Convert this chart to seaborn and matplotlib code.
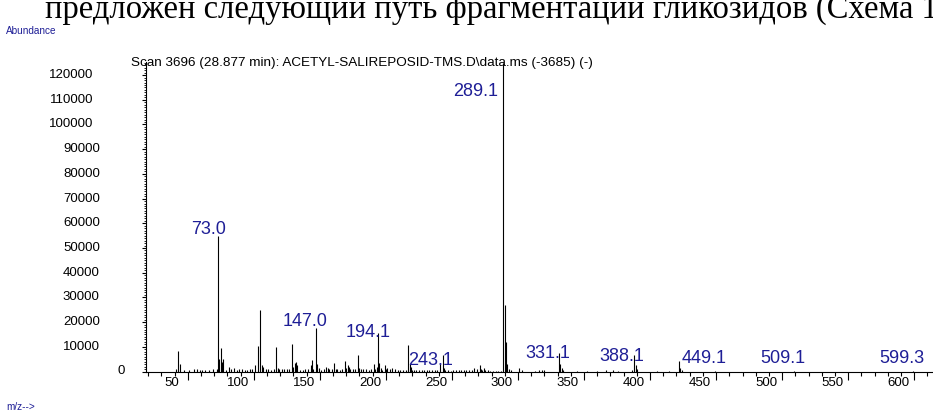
import matplotlib
matplotlib.use('Agg')
import matplotlib.pyplot as plt
import seaborn as sns
from matplotlib.ticker import MultipleLocator

# Espectro de massas (m/z, abundância)
mz = [41, 43, 44, 47, 51, 55, 57, 59, 61, 63, 66, 69, 72, 73, 74, 75, 76, 77, 79, 81,
      83, 85, 87, 89, 91, 93, 95, 97, 99, 101, 103, 105, 106, 107, 109, 111, 113, 115, 117, 118,
      119, 121, 123, 125, 127, 129, 130, 131, 132, 133, 135, 137, 139, 141, 143, 144, 145, 147, 148, 149,
      151, 153, 155, 156, 157, 159, 161, 162, 163, 165, 167, 169, 170, 171, 172, 173, 175, 177, 179, 180,
      181, 183, 185, 187, 189, 191, 192, 193, 194, 195, 196, 197, 199, 200, 201, 203, 205, 207, 209, 211,
      213, 215, 217, 218, 219, 220, 221, 223, 225, 227, 229, 231, 233, 235, 237, 239, 241, 243, 244, 245,
      247, 249, 251, 253, 255, 257, 259, 261, 263, 265, 267, 269, 271, 272, 273, 274, 275, 277, 279, 281,
      283, 285, 287, 289, 290, 291, 292, 293, 295, 301, 303, 313, 316, 318, 320, 331, 332, 333, 334, 345,
      352, 360, 367, 372, 376, 386, 388, 389, 390, 405, 414, 422, 423, 424, 449, 509, 599]
abundance = [1200, 8500, 3000, 800, 700, 1000, 900, 800, 600, 500, 700, 900, 1200, 55000, 5000, 9500, 3800, 5000, 800, 1800,
             900, 1500, 700, 1000, 1200, 800, 700, 900, 1200, 2500, 10500, 25000, 2500, 1800, 900, 1000, 800, 1200, 10000, 1500,
             1200, 1000, 900, 1200, 1000, 11000, 2000, 3500, 4000, 2500, 800, 700, 1000, 1200, 2700, 4800, 1000, 17500, 3000, 1500,
             800, 900, 2000, 1500, 1000, 1200, 3500, 1000, 1200, 800, 1000, 4200, 1500, 2800, 2000, 900, 1000, 1200, 6500, 1500,
             900, 1000, 1200, 800, 1000, 3000, 1000, 2000, 15500, 3500, 1500, 800, 2500, 1000, 1500, 1200, 1500, 900, 800, 700,
             600, 800, 10800, 3000, 2000, 800, 700, 600, 800, 700, 600, 700, 500, 600, 500, 700, 3000, 6700, 1500, 800,
             500, 400, 500, 600, 500, 500, 700, 600, 500, 600, 1500, 1000, 2700, 1200, 800, 1500, 800, 500, 400, 300,
             400, 300, 300, 125000, 27000, 12000, 3000, 1000, 500, 1500, 700, 400, 500, 600, 500, 7400, 3000, 1500, 600, 400,
             400, 400, 500, 500, 400, 500, 6700, 2500, 1200, 300, 300, 4300, 1500, 600, 400, 300, 300]

# Picos com rótulo
label_mz = [73, 147, 194, 243, 289, 331, 388, 449, 509, 599]
label_text = ['73.0', '147.0', '194.1', '243.1', '289.1', '331.1', '388.1', '449.1', '509.1', '599.3']
# deslocamento do texto em relação ao topo do pico (pixels)
label_dx = [-10, -11, -10, -12, -28, -11, -12, -11, -11, -11]
label_dy = [6, 7, 1, -6, -29, 0, -2, 12, 12, 12]

x_ticks = list(range(50, 601, 50))
y_ticks = list(range(0, 120001, 10000))

header = 'предложен следующий путь фрагментации гликозидов (Схема 1'
scan_title = 'Scan 3696 (28.877 min): ACETYL-SALIREPOSID-TMS.D\\data.ms (-3685) (-)'

blue = '#1e1e96'

sns.set_style('ticks')
plt.rcParams['font.family'] = ['Liberation Sans', 'DejaVu Sans']

fig = plt.figure(figsize=(9.33, 4.12), dpi=100)
ax = fig.add_axes([146 / 933, 40.5 / 412, 787 / 933, 309.5 / 412])

ax.vlines(mz, 0, abundance, color='black', linewidth=0.8)
ax.set_xlim(18.4, 614.2)
ax.set_ylim(0, 125300)
sns.despine(ax=ax)
for s in ['left', 'bottom']:
    ax.spines[s].set_linewidth(0.8)
    ax.spines[s].set_color('black')

ax.xaxis.set_major_locator(MultipleLocator(50))
ax.xaxis.set_minor_locator(MultipleLocator(10))
ax.yaxis.set_major_locator(MultipleLocator(10000))
ax.yaxis.set_minor_locator(MultipleLocator(1000))
ax.tick_params(axis='x', which='major', length=6, width=0.8, color='black', labelbottom=False)
ax.tick_params(axis='x', which='minor', length=3, width=0.8, color='black')
ax.tick_params(axis='y', which='major', length=3, width=0.8, color='black', labelleft=False)
ax.tick_params(axis='y', which='minor', length=1.5, width=0.6, color='black')

# rótulos dos eixos (deslocados como no original)
for v in x_ticks:
    ax.annotate(str(v), xy=(v, 0), xycoords=('data', 'axes fraction'), xytext=(-16, -11),
                textcoords='offset pixels', ha='center', va='center', fontsize=9.5, color='black')
for v in y_ticks:
    n = len(str(v))
    ax.annotate(str(v), xy=(0, v), xycoords=('axes fraction', 'data'), xytext=(-21 - 6.3 * (n - 1), 0),
                textcoords='offset pixels', ha='right', va='center', fontsize=9.5, color='black')

# rótulos dos picos
for m, t, dx, dy in zip(label_mz, label_text, label_dx, label_dy):
    top = abundance[mz.index(m)]
    ax.annotate(t, xy=(m, top), xytext=(dx, dy), textcoords='offset pixels',
                ha='center', va='center', fontsize=13, color=blue)

fig.text(131 / 933, 1 - 63 / 412, scan_title, ha='left', va='center', fontsize=9.7, color='black')
fig.text(6 / 933, 1 - 31 / 412, 'Abundance', ha='left', va='center', fontsize=7.2, color=blue)
fig.text(6 / 933, 1 - 407 / 412, 'm/z-->', ha='left', va='center', fontsize=7.2, color=blue)
fig.text(45 / 933, 1 - 18 / 412, header, ha='left', va='baseline', fontsize=23.5,
         family=['Liberation Serif', 'DejaVu Serif'], color='black')

fig.savefig('out.png', dpi=100)
